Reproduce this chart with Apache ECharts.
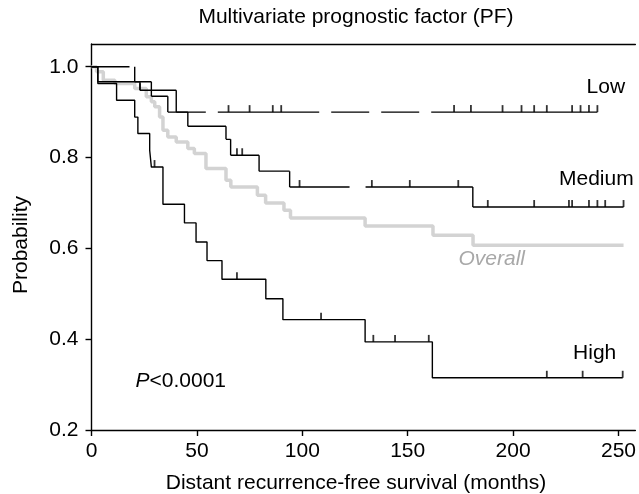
<!DOCTYPE html>
<html><head><meta charset="utf-8">
<script src="https://cdn.jsdelivr.net/npm/echarts@6/dist/echarts.min.js"></script>
<style>html,body{margin:0;padding:0;background:#fff}#c{width:639px;height:494px}</style>
</head><body><div id="c"></div>
<script>
// ---- data (time in months, survival probability after each step) ----
const lowTimes = [0, 20.5, 28.4, 36.2, 240];
const lowSurv  = [1.0, 0.967, 0.935, 0.900, 0.900];
const lowCensor = [65, 75, 86, 90, 172, 180, 195, 204, 210, 216, 228, 232, 236, 240];

const medTimes = [0, 3, 23, 40.2, 45.7, 63.8, 66, 79.5, 94, 180.9, 252.4];
const medSurv  = [1.0, 0.967, 0.948, 0.900, 0.869, 0.840, 0.805, 0.770, 0.735, 0.691, 0.691];
const medCensor = [23, 69, 71.5, 98.7, 133, 151, 174, 188, 210, 226.5, 228, 236, 240, 243.7, 252.4];

const highTimes = [0, 3, 11.9, 20.5, 22, 27.6, 28.4, 33.9, 44.1, 49.6, 54.8, 61.9, 82.7, 90.8, 129.8, 161.7, 252];
const highSurv  = [1.0, 0.963, 0.926, 0.889, 0.853, 0.816, 0.779, 0.697, 0.656, 0.614, 0.573, 0.532, 0.489, 0.443, 0.394, 0.315, 0.315];
const highCensor = [29.9, 69, 108.9, 133.7, 144, 160, 216, 233, 252];

const allTimes = [0, 2.4, 5.6, 11.1, 20.5, 26, 28.4, 30, 32.3, 33.9, 36.2, 40.2, 45.7, 48.8, 54.3, 63.8, 66.1, 78.7, 82.6, 91.3, 94.4, 129.8, 162, 181, 252.4];
const allSurv  = [1.0, 0.989, 0.970, 0.963, 0.952, 0.934, 0.923, 0.912, 0.889, 0.860, 0.845, 0.834, 0.820, 0.809, 0.776, 0.750, 0.735, 0.717, 0.700, 0.684, 0.667, 0.649, 0.629, 0.607, 0.607];

const xTicks = [0, 50, 100, 150, 200, 250];
const yTicks = [0.2, 0.4, 0.6, 0.8, 1.0];

// ---- helpers ----
const pts = (ts, ss) => ts.map((t, i) => [t, ss[i]]);
function survAt(ts, ss, t) { let s = ss[0]; for (let i = 0; i < ts.length; i++) if (ts[i] <= t) s = ss[i]; return s; }
const cens = (cs, ts, ss) => cs.map(t => [t, survAt(ts, ss, t)]);
const GAP = ['-', '-'];
// horizontal runs, broken at every event and censoring time (dash pattern restarts on each run)
function hRuns(ts, ss, cs) {
  const br = Array.from(new Set(ts.concat(cs))).sort((a, b) => a - b);
  const out = [];
  for (let i = 0; i < br.length - 1; i++) {
    const s = survAt(ts, ss, br[i]);
    out.push([br[i], s], [br[i + 1], s], GAP);
  }
  return out;
}
// vertical drops
function vDrops(ts, ss) {
  const out = [];
  for (let i = 1; i < ts.length; i++) if (ss[i] !== ss[i - 1]) out.push([ts[i], ss[i - 1]], [ts[i], ss[i]], GAP);
  return out;
}

const FONT = '"Liberation Sans", Arial, Helvetica, sans-serif';
const chart = echarts.init(document.getElementById('c'));

function plain(name, data, style, z) {
  return { name, type: 'line', data, showSymbol: false, symbol: 'none', connectNulls: false,
    lineStyle: style, z, silent: true, animation: false };
}
function kmLine(name, data, style, z) {
  return Object.assign(plain(name, data, style, z), { step: 'end' });
}
function tickSeries(name, data) {
  return { name, type: 'scatter', data, symbol: 'rect', symbolSize: [1.8, 7], symbolOffset: [0, -3.5],
    itemStyle: { color: '#000' }, z: 5, silent: true, animation: false };
}

const lab = (text, x, y, extra) => Object.assign({
  type: 'text', x, y,
  style: Object.assign({ text, font: '21px ' + FONT, fill: '#000',
    align: 'center', verticalAlign: 'middle', textAlign: 'center', textVerticalAlign: 'middle' }, extra || {})
});

const BLACK = { color: '#000', width: 1.4 };

chart.setOption({
  animation: false,
  backgroundColor: '#fff',
  grid: { left: 91.5, right: 0, top: 44, bottom: 64 },
  xAxis: [{
    type: 'value', min: 0, max: 258, interval: 50,
    axisLine: { show: true, lineStyle: { color: '#000', width: 1.4 } },
    axisTick: { show: true, length: 6, lineStyle: { color: '#000', width: 1.4 }, customValues: xTicks },
    axisLabel: { show: true, margin: 11, color: '#000', fontSize: 21, fontFamily: FONT, customValues: xTicks },
    splitLine: { show: false }
  }, {
    type: 'value', position: 'top', min: 0, max: 258,
    axisLine: { show: true, lineStyle: { color: '#000', width: 1.4 } },
    axisTick: { show: false }, axisLabel: { show: false }, splitLine: { show: false }
  }],
  yAxis: {
    type: 'value', min: 0.2, max: 1.05, interval: 0.2,
    axisLine: { show: true, lineStyle: { color: '#000', width: 1.4 } },
    axisTick: { show: true, length: 6, lineStyle: { color: '#000', width: 1.4 }, customValues: yTicks },
    axisLabel: { show: true, margin: 13, color: '#000', fontSize: 21, fontFamily: FONT,
      formatter: v => v.toFixed(1), customValues: yTicks },
    splitLine: { show: false }
  },
  series: [
    kmLine('Overall', pts(allTimes, allSurv), { color: '#d3d3d3', width: 3.5 }, 1),
    plain('Low runs', hRuns(lowTimes, lowSurv, lowCensor), Object.assign({ type: [38, 12] }, BLACK), 2),
    plain('Low drops', vDrops(lowTimes, lowSurv), BLACK, 2),
    plain('Medium runs', hRuns(medTimes, medSurv, medCensor), Object.assign({ type: [50, 16] }, BLACK), 2),
    plain('Medium drops', vDrops(medTimes, medSurv), BLACK, 2),
    kmLine('High', pts(highTimes, highSurv), BLACK, 2),
    tickSeries('LowC', cens(lowCensor, lowTimes, lowSurv)),
    tickSeries('MedC', cens(medCensor, medTimes, medSurv)),
    tickSeries('HighC', cens(highCensor, highTimes, highSurv))
  ],
  graphic: [
    lab('Multivariate prognostic factor (PF)', 356, 17.5),
    lab('Distant recurrence-free survival (months)', 356, 483.7),
    Object.assign(lab('Probability', 21, 245), { rotation: Math.PI / 2 }),
    lab('Low', 605.8, 86.8),
    lab('Medium', 596.3, 179.2),
    lab('High', 594.7, 352.8),
    lab('Overall', 491.7, 259.2, { fill: '#a8a8a8', font: 'italic 21px ' + FONT }),
    lab('{i|P}<0.0001', 180.8, 380.8, { rich: { i: { fontStyle: 'italic', fontSize: 21, fontFamily: FONT } } })
  ]
});
</script>
</body></html>
